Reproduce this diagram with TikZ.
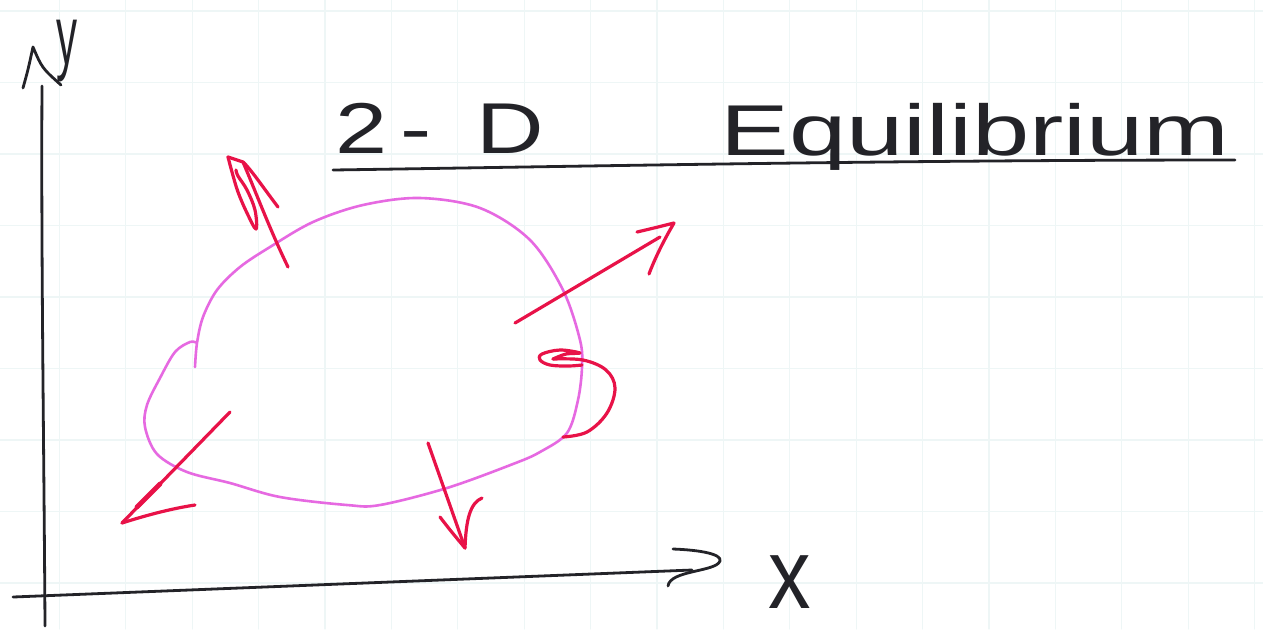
\documentclass[tikz,border=0pt]{standalone}
\usepackage{fontspec}
\setmainfont{Liberation Sans}
\definecolor{ink}{RGB}{35,35,40}
\definecolor{blobc}{RGB}{230,105,225}
\definecolor{redpen}{RGB}{232,18,72}
\definecolor{gridc}{RGB}{238,246,246}
\begin{document}
\begin{tikzpicture}[x=0.5pt,y=-0.5pt,line cap=round,line join=round,
  inkline/.style={draw=ink,line width=1.4pt},
  blobline/.style={draw=blobc,line width=1.3pt},
  redline/.style={draw=redpen,line width=1.6pt},
  gridline/.style={draw=gridc,line width=0.6pt},
  lbl/.style={inner sep=0pt,outer sep=0pt,text=ink}]
% canvas
\useasboundingbox (0,0) rectangle (1263,629);
\fill[white] (0,0) rectangle (1263,629);
% faint paper grid
\foreach \k in {0,...,18} {\draw[gridline] ({59.3+66.4*\k},0) -- ({59.3+66.4*\k},629);}
\foreach \k in {0,...,8} {\draw[gridline] (0,{11+71.5*\k}) -- (1263,{11+71.5*\k});}

% ---- title ----
\node[lbl,anchor=base,xscale=1.3,font=\fontsize{36}{40}\selectfont] (t2d) at (440,153) {2\kern5pt-\kern17pt D};
\node[lbl,anchor=base,xscale=1.43,font=\fontsize{36}{40}\selectfont] (teq) at (975,155) {Equilibrium};
\coordinate (ulA) at (333,170);
\coordinate (ulB) at (1235,160);
\draw[inkline] (ulA) .. controls (600,166) and (900,160) .. (ulB);

% ---- axes ----
\coordinate (ybot) at (45,626);
\coordinate (ytop) at (42,86);
\coordinate (xleft) at (13,597);
\coordinate (xright) at (692,570);
\draw[inkline] (ybot) .. controls (44,450) and (41,250) .. (ytop);
\draw[inkline] (xleft) -- (xright);
% y arrowhead
\coordinate (yhL) at (23,88);
\coordinate (yhT) at (33,47);
\coordinate (yhR) at (61,85);
\draw[inkline] (yhL) .. controls (28,70) .. (yhT) .. controls (42,68) .. (yhR);
% x arrowhead
\coordinate (xhA) at (673,549);
\coordinate (xhT) at (720,561);
\coordinate (xhB) at (668,586);
\draw[inkline] (xhA) .. controls (700,550) and (722,554) .. (xhT) .. controls (716,572) and (670,570) .. (xhB);
% axis labels
\node[lbl,anchor=base,xscale=0.5,font=\fontsize{42}{44}\selectfont] (ly) at (67,64) {y};
\node[lbl,anchor=base,xscale=0.85,font=\fontsize{50}{52}\selectfont] (lx) at (790,608) {x};

% ---- body outline ----
\draw[blobline] plot[smooth,tension=0.55] coordinates {
  (195,367) (197,343) (203,317) (217,290) (240,267) (270,247) (313,222)
  (363,205) (420,198) (480,208) (530,240) (563,290) (580,340) (582,367)
  (578,400) (567,433) (540,452) (513,464) (447,488) (380,505) (347,505)
  (280,497) (230,483) (187,472) (157,454) (145,427) (147,405) (160,378)
  (175,352) (190,342) (197,343)};

% ---- forces ----
% upper-left force
\coordinate (f1s) at (288,267);
\coordinate (f1j) at (243,162);
\coordinate (f1t) at (228,157);
\coordinate (f1b) at (278,207);
\draw[redline] (f1s) .. controls (270,230) and (255,190) .. (f1j);
\draw[redline] (f1b) .. controls (265,190) and (250,168) .. (f1j) -- (f1t);
\draw[redline] plot[smooth,tension=0.6] coordinates {(f1t) (232,172) (238,192) (247,213) (256,229) (255,210) (247,190) (238,176) (236,170)};
% right force
\coordinate (f2s) at (515,323);
\coordinate (f2j) at (660,237);
\coordinate (f2t) at (674,223);
\coordinate (f2a) at (637,232);
\coordinate (f2b) at (649,274);
\draw[redline] (f2s) -- (f2j);
\draw[redline] (f2a) .. controls (650,229) and (662,226) .. (f2t) .. controls (664,240) and (655,258) .. (f2b);
% lower-left force
\coordinate (f3s) at (230,412);
\coordinate (f3t) at (122,523);
\coordinate (f3b) at (195,505);
\draw[redline] (f3s) -- (f3t);
\draw[redline,line width=2.4pt] (160,484) -- (137,507);
\draw[redline] (f3t) .. controls (150,514) and (175,508) .. (f3b);
% bottom force
\coordinate (f4s) at (428,443);
\coordinate (f4t) at (465,548);
\coordinate (f4a) at (440,517);
\coordinate (f4b) at (482,498);
\draw[redline] (f4s) -- (f4t);
\draw[redline] (f4a) .. controls (450,530) .. (f4t) .. controls (466,520) and (470,503) .. (f4b);
% moment
\coordinate (mS) at (563,437);
\coordinate (mT) at (553,359);
\draw[redline] plot[smooth,tension=0.6] coordinates {(mS) (587,432) (607,413) (615,388) (606,370) (583,360) (mT)};
\draw[redline] plot[smooth,tension=0.6] coordinates {(mT) (566,354) (580,353) (560,350) (542,354) (540,360) (550,365) (568,366) (582,365)};
\end{tikzpicture}
\end{document}
